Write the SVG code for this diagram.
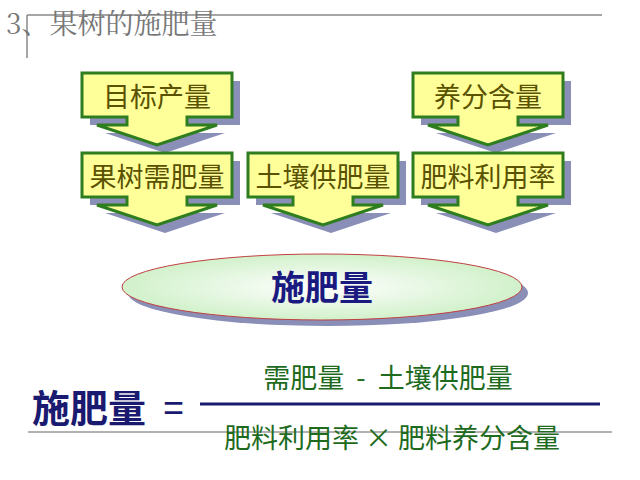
<svg xmlns="http://www.w3.org/2000/svg" width="640" height="480" viewBox="0 0 640 480">
<style>
.c{fill:#ffff99;stroke:#2e7d1e;stroke-width:3;stroke-linejoin:miter}
.s{fill:#8a8fb8}
.t{font-family:"Noto Sans CJK SC",sans-serif;font-size:27px;fill:#5a5200;text-anchor:middle}
.g{font-family:"Noto Sans CJK SC",sans-serif;font-size:27px;fill:#1e6b1e;text-anchor:middle}
</style>
<defs>
<path id="co" d="M0,0H150V44H105V52H135L75,72L15,52H45V44H0Z"/>
<radialGradient id="eg" cx="0.5" cy="0.5" r="0.6"><stop offset="0" stop-color="#ffffff"/><stop offset="1" stop-color="#c8eec0"/></radialGradient>
</defs>
<rect width="640" height="480" fill="#fff"/>
<line x1="27" y1="15" x2="602" y2="15" stroke="#888" stroke-width="1.5"/>
<line x1="27" y1="15" x2="27" y2="58" stroke="#888" stroke-width="1.5"/>
<text x="6" y="34" font-family="Noto Serif CJK SC,Noto Sans CJK SC,serif" font-size="28" fill="#777">3、果树的施肥量</text>
<g id="n1"><use href="#co" x="90" y="81" class="s"/><use href="#co" x="82" y="73" class="c"/><text x="157" y="107" class="t">目标产量</text></g>
<g id="n2"><use href="#co" x="421" y="81" class="s"/><use href="#co" x="413" y="73" class="c"/><text x="488" y="107" class="t">养分含量</text></g>
<g id="n3"><use href="#co" x="90" y="161" class="s"/><use href="#co" x="82" y="153" class="c"/><text x="157" y="187" class="t">果树需肥量</text></g>
<g id="n4"><use href="#co" x="256" y="161" class="s"/><use href="#co" x="248" y="153" class="c"/><text x="323" y="187" class="t">土壤供肥量</text></g>
<g id="n5"><use href="#co" x="421" y="161" class="s"/><use href="#co" x="413" y="153" class="c"/><text x="488" y="187" class="t">肥料利用率</text></g>
<g id="n6"><ellipse cx="328" cy="293" rx="200" ry="33" fill="#8a8fb8"/><ellipse cx="322" cy="287" rx="200" ry="33" fill="url(#eg)" stroke="#c04040" stroke-width="1"/><text x="322" y="300" font-family="Noto Sans CJK SC,sans-serif" font-size="34" font-weight="bold" fill="#1a1a80" text-anchor="middle">施肥量</text></g>
<g id="connectors"></g>
<g id="formula">
<line x1="28" y1="432" x2="612" y2="432" stroke="#999" stroke-width="1.5"/>
<text x="32" y="422" font-family="Noto Sans CJK SC,sans-serif" font-size="38" font-weight="bold" fill="#1a1a70">施肥量</text>
<text x="163" y="420" font-family="Liberation Sans,sans-serif" font-size="36" fill="#1a1a70">=</text>
<line x1="200" y1="404" x2="600" y2="404" stroke="#1a1a70" stroke-width="3"/>
<text x="388" y="388" class="g" xml:space="preserve">需肥量  -  土壤供肥量</text>
<text x="392" y="448" class="g">肥料利用率 × 肥料养分含量</text>
</g>
</svg>
